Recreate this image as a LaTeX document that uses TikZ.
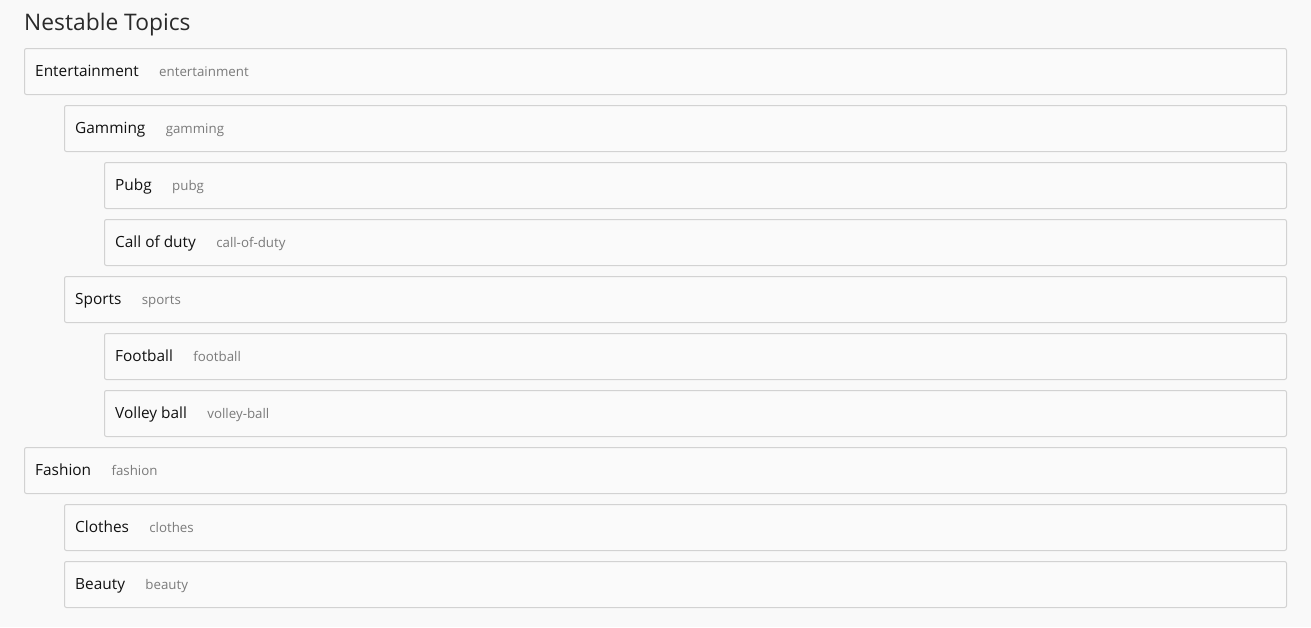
\documentclass[tikz,border=0pt]{standalone}
\usepackage{fontspec}
\setmainfont{Open Sans}
\usetikzlibrary{positioning}
\definecolor{bgc}{HTML}{F9F9F9}
\definecolor{boxfill}{HTML}{FAFAFA}
\definecolor{boxline}{HTML}{D2D2D2}
\definecolor{titlec}{HTML}{2A2A2A}
\definecolor{labelc}{HTML}{111111}
\definecolor{slugc}{HTML}{7A7A7A}
\tikzset{
  topicbox/.style={draw=boxline, fill=boxfill, line width=1pt, rounded corners=2pt,
    minimum height=46pt, inner sep=0pt, anchor=north west},
  lbl/.style={font=\fontsize{15.4}{17}\selectfont, text=labelc, inner sep=0pt, anchor=west},
  slug/.style={font=\fontsize{13.3}{15}\selectfont, text=slugc, inner sep=0pt, anchor=base west},
}
\newcommand{\topic}[6]{% name, x, y, label, slug
  \node[topicbox, minimum width={1286pt-#2pt}] (#1) at (#2pt,-#3pt) {};
  \node[lbl] (#1l) at ([xshift=11pt,yshift=-2pt]#1.west) {\strut #4};
  \node[slug] (#1s) at ([xshift=#6pt]#1l.base east) {#5};
}
\begin{document}
\begin{tikzpicture}
\useasboundingbox[fill=bgc] (0,0) rectangle (1311pt,-627pt);
\node[anchor=base west, inner sep=0pt, text=titlec, font=\fontsize{22.8}{26}\selectfont] (title) at (24pt,-30pt) {Nestable Topics};
\topic{ent}{24}{48}{Entertainment}{entertainment}{20}
\topic{gam}{64}{105}{Gamming}{gamming}{20}
\topic{pub}{104}{162}{Pubg}{pubg}{20}
\topic{cod}{104}{219}{Call of duty}{call-of-duty}{20}
\topic{spo}{64}{276}{Sports}{sports}{20}
\topic{foo}{104}{333}{Football}{football}{20}
\topic{vol}{104}{390}{Volley ball}{volley-ball}{20}
\topic{fas}{24}{447}{Fashion}{fashion}{20}
\topic{clo}{64}{504}{Clothes}{clothes}{20}
\topic{bea}{64}{561}{Beauty}{beauty}{20}
\end{tikzpicture}
\end{document}
